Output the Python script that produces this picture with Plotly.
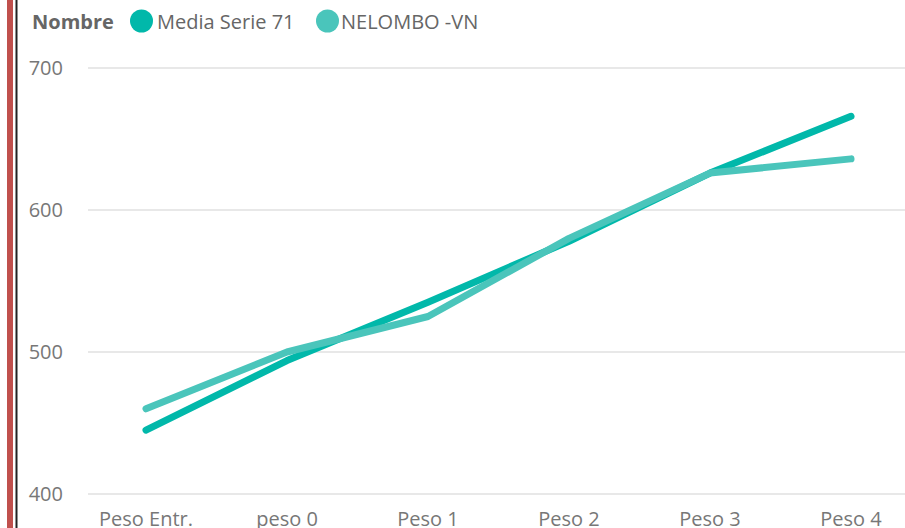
import plotly.graph_objects as go

categories = ["Peso Entr.", "peso 0", "Peso 1", "Peso 2", "Peso 3", "Peso 4"]
media_serie_71 = [445, 494, 535, 578, 626, 666]
nelombo_vn = [460, 500, 525, 580, 626, 636]
y_ticks = [400, 500, 600, 700]
series_names = ["Media Serie 71", "NELOMBO -VN"]
legend_title = "Nombre"

C_MEDIA = "#01B8AA"
C_NEL = "#4AC5BB"
FONT = "Open Sans"

x_idx = list(range(len(categories)))

fig = go.Figure()
fig.add_trace(go.Scatter(x=x_idx, y=media_serie_71, mode="lines",
                         line=dict(color=C_MEDIA, width=7), name=series_names[0]))
fig.add_trace(go.Scatter(x=x_idx, y=nelombo_vn, mode="lines",
                         line=dict(color=C_NEL, width=7), name=series_names[1]))

L, R, T, B = 88, 0, 66, 32
W, H = 905, 528
pw = W - L - R
ph = H - T - B

def px(p):
    return (p - L) / pw

def py(p):
    return 1 - (p - T) / ph

legend_y = py(21)
shapes = [
    dict(type="rect", xref="paper", yref="paper", x0=px(7), x1=px(13), y0=-1, y1=2,
         fillcolor="#C0504D", line=dict(width=0), layer="above"),
    dict(type="line", xref="paper", yref="paper", x0=px(16.5), x1=px(16.5), y0=-1, y1=2,
         line=dict(color="#222222", width=2), layer="above"),
]
annotations = [
    dict(text="<b>%s</b>" % legend_title, xref="paper", yref="paper", x=px(30), y=legend_y,
         xanchor="left", yanchor="middle", showarrow=False,
         font=dict(family=FONT, size=20, color="#666666")),
]
leg_items = [(141.5, 155, series_names[0], C_MEDIA), (327.5, 339, series_names[1], C_NEL)]
for cx, tx, name, col in leg_items:
    shapes.append(dict(type="circle", xref="paper", yref="paper", xsizemode="pixel",
                       ysizemode="pixel", xanchor=px(cx), yanchor=legend_y,
                       x0=-11.5, x1=11.5, y0=-11.5, y1=11.5,
                       fillcolor=col, line=dict(width=0)))
    annotations.append(dict(text=name, xref="paper", yref="paper", x=px(tx), y=legend_y,
                            xanchor="left", yanchor="middle", showarrow=False,
                            font=dict(family=FONT, size=20, color="#666666")))

fig.update_layout(
    width=W, height=H,
    margin=dict(l=L, r=R, t=T, b=B, pad=0, autoexpand=False),
    paper_bgcolor="white", plot_bgcolor="white",
    font=dict(family=FONT, size=21, color="#666666"),
    showlegend=False,
    xaxis=dict(tickmode="array", tickvals=x_idx, ticktext=categories,
               range=[-58/141, 5 + 54/141], showgrid=False, zeroline=False,
               showline=False, ticks="outside", ticklen=5, tickcolor="rgba(0,0,0,0)",
               tickfont=dict(size=20, color="#777777"), automargin=False),
    yaxis=dict(range=[398.6, 701.4], tickvals=y_ticks, showgrid=True, gridcolor="#E8E8E8",
               gridwidth=1.5, zeroline=False, showline=False,
               ticks="outside", ticklen=20, tickcolor="rgba(0,0,0,0)",
               tickfont=dict(size=20, color="#777777"), automargin=False),
    shapes=shapes,
    annotations=annotations,
)

fig.write_html(
    "out.html",
    config={"displayModeBar": False},
    post_script=(
        "document.body.style.margin='0px';document.body.style.overflow='hidden';"
        "document.querySelectorAll('.scatterlayer .js-line').forEach(function(e){"
        "e.style.strokeLinecap='round';e.style.strokeLinejoin='round';});"
    ),
)
